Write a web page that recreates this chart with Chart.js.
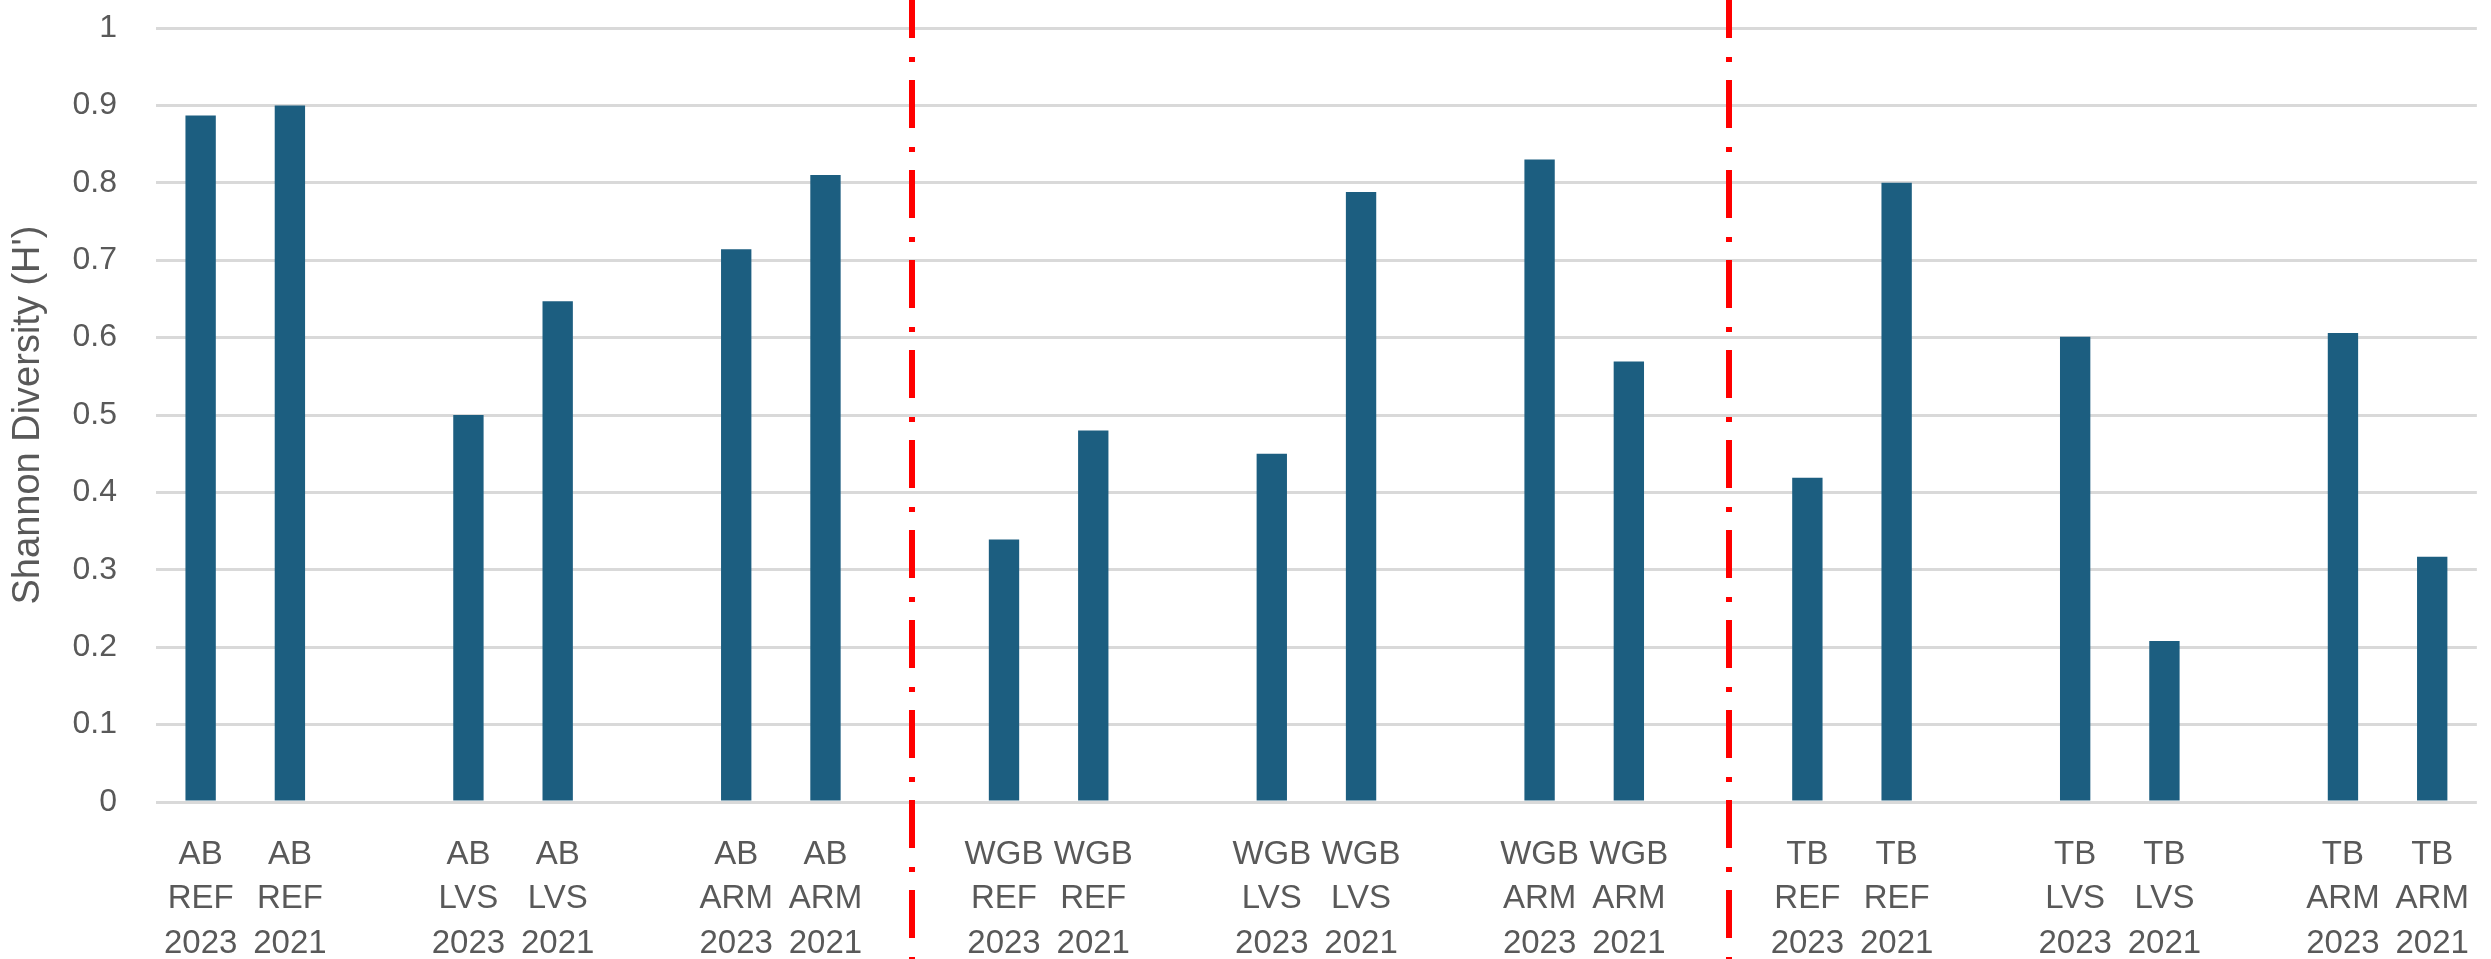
<!DOCTYPE html>
<html>
<head>
<meta charset="utf-8">
<script src="https://cdn.jsdelivr.net/npm/chart.js@4"></script>
<style>
  html, body { margin: 0; padding: 0; background: #fff; }
  #wrap { width: 2491px; height: 959px; }
</style>
</head>
<body>
<div id="wrap"><canvas id="chart" width="2491" height="959"></canvas></div>
<script>
"use strict";
// one empty category between each pair of bars
const categories = [
  ["AB", "REF", "2023"], ["AB", "REF", "2021"], "",
  ["AB", "LVS", "2023"], ["AB", "LVS", "2021"], "",
  ["AB", "ARM", "2023"], ["AB", "ARM", "2021"], "",
  ["WGB", "REF", "2023"], ["WGB", "REF", "2021"], "",
  ["WGB", "LVS", "2023"], ["WGB", "LVS", "2021"], "",
  ["WGB", "ARM", "2023"], ["WGB", "ARM", "2021"], "",
  ["TB", "REF", "2023"], ["TB", "REF", "2021"], "",
  ["TB", "LVS", "2023"], ["TB", "LVS", "2021"], "",
  ["TB", "ARM", "2023"], ["TB", "ARM", "2021"],
];

const shannon = [
  0.887, 0.900, null,
  0.500, 0.647, null,
  0.714, 0.810, null,
  0.339, 0.480, null,
  0.450, 0.788, null,
  0.830, 0.569, null,
  0.419, 0.800, null,
  0.601, 0.208, null,
  0.606, 0.317,
];

// red dash-dot separators between the sites (category index)
const dividerAt = [7.97, 17.12];

const fontFamily = "'Liberation Sans', Arial, sans-serif";

const dividers = {
  id: "dividers",
  afterDraw(chart, args, opts) {
    const ctx = chart.ctx;
    const xs = chart.scales.x;
    ctx.save();
    ctx.strokeStyle = opts.color;
    ctx.lineWidth = opts.width;
    ctx.setLineDash(opts.dash);
    ctx.lineDashOffset = opts.dashOffset;
    opts.at.forEach((v) => {
      const px = Math.round(xs.getPixelForValue(v));
      ctx.beginPath();
      ctx.moveTo(px, 0);
      ctx.lineTo(px, chart.height);
      ctx.stroke();
    });
    ctx.restore();
  },
};

const chartCxt = document.querySelector("#chart").getContext("2d");
new Chart(chartCxt, {
  type: "bar",
  data: {
    labels: categories,
    datasets: [
      {
        label: "Shannon Diversity (H')",
        data: shannon,
        backgroundColor: "#1c5e80",
        barPercentage: 0.34,
        categoryPercentage: 1,
      },
    ],
  },
  options: {
    responsive: false,
    animation: false,
    devicePixelRatio: 1,
    layout: { padding: { top: 28, right: 4, left: 0, bottom: 0 } },
    plugins: {
      legend: { display: false },
      tooltip: { enabled: false },
      dividers: {
        at: dividerAt,
        color: "#ff0000",
        width: 6,
        dash: [48, 19, 5, 18],
        dashOffset: 10,
      },
    },
    scales: {
      x: {
        grid: { display: false },
        border: { display: false },
        ticks: {
          autoSkip: false,
          maxRotation: 0,
          padding: 22,
          color: "#595959",
          font: { family: fontFamily, size: 33, lineHeight: 1.36 },
        },
        afterFit(scale) {
          scale.height = 157;
        },
      },
      y: {
        min: 0,
        max: 1,
        ticks: {
          stepSize: 0.1,
          padding: 39,
          color: "#595959",
          font: { family: fontFamily, size: 32 },
          callback: (v) => String(Math.round(v * 10) / 10),
        },
        grid: { color: "#d9d9d9", lineWidth: 3, drawTicks: false },
        border: { display: false },
        title: {
          display: true,
          text: "Shannon Diversity (H')",
          color: "#595959",
          padding: { top: 6, bottom: 0 },
          font: { family: fontFamily, size: 38 },
        },
        afterFit(scale) {
          scale.width = 156;
          scale.paddingTop = 0;
          scale.paddingBottom = 0;
        },
      },
    },
  },
  plugins: [dividers],
});
</script>
</body>
</html>
